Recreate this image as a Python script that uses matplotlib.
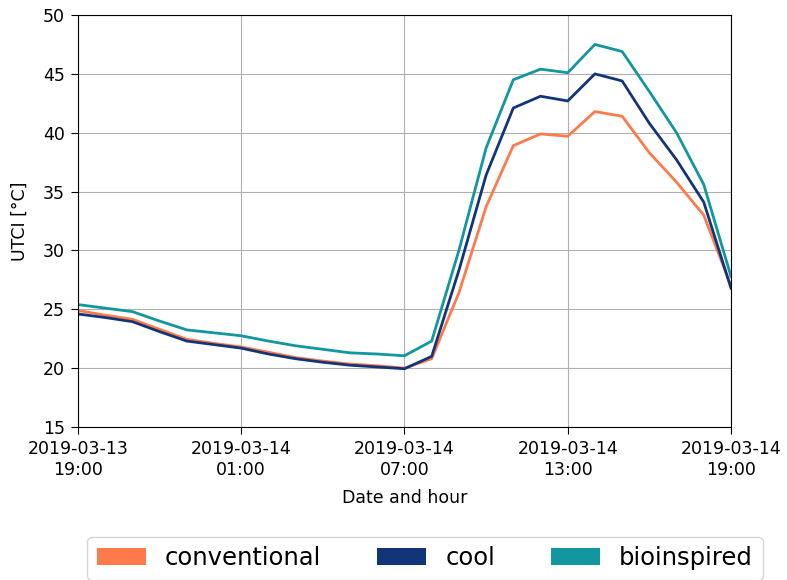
import matplotlib
matplotlib.use("Agg")
import matplotlib.dates as mdates
import matplotlib.pyplot as plt
import pandas as pd
from matplotlib.patches import Patch

# hourly UTCI, 2019-03-13 19:00 .. 2019-03-14 19:00
hours = pd.date_range("2019-03-13 19:00", "2019-03-14 19:00", freq="h")

conventional = [24.9, 24.5, 24.15, 23.3, 22.45, 22.1, 21.8, 21.35, 20.9, 20.6,
                20.35, 20.2, 20.0, 20.8, 26.4, 33.7, 38.9, 39.9, 39.7, 41.8,
                41.4, 38.3, 35.8, 33.0, 27.0]
cool = [24.6, 24.3, 23.95, 23.1, 22.3, 22.0, 21.7, 21.2, 20.8, 20.5,
        20.25, 20.1, 19.95, 21.0, 28.3, 36.4, 42.1, 43.1, 42.7, 45.0,
        44.4, 40.8, 37.7, 34.1, 26.8]
bioinspired = [25.4, 25.1, 24.8, 24.0, 23.25, 23.0, 22.75, 22.3, 21.9, 21.6,
               21.3, 21.2, 21.05, 22.3, 30.0, 38.7, 44.5, 45.4, 45.1, 47.5,
               46.9, 43.5, 40.0, 35.6, 27.8]

series = ["conventional", "cool", "bioinspired"]
colors = ["#ff7a4a", "#12357a", "#1296a0"]

fig = plt.figure(figsize=(7.87, 5.8), dpi=100)
ax = fig.add_axes([0.0991, 0.2638, 0.8297, 0.7103])

for name, vals, c in zip(series, [conventional, cool, bioinspired], colors):
    ax.plot(hours, vals, color=c, lw=2, label=name)

ax.set_xlim(hours[0], hours[-1])
ax.set_ylim(15, 50)
ax.xaxis.set_major_locator(mdates.HourLocator(byhour=[1, 7, 13, 19]))
ax.xaxis.set_major_formatter(mdates.DateFormatter("%Y-%m-%d\n%H:%M"))
ax.tick_params(labelsize=12.5, length=5, pad=4.5)
for lbl in ax.get_xticklabels():
    lbl.set_horizontalalignment("center")
ax.grid(True, color="#b0b0b0", lw=0.8)
ax.set_xlabel("Date and hour", fontsize=12.5, labelpad=7.5)
ax.set_ylabel("UTCI [°C]", fontsize=12.5, labelpad=10)

handles = [Patch(facecolor=c, label=n) for n, c in zip(series, colors)]
fig.legend(handles=handles, loc="upper center", bbox_to_anchor=(0.54, 0.0957),
           ncol=3, fontsize=17.5, frameon=True, columnspacing=2.3)

fig.savefig("out.png", dpi=100)
